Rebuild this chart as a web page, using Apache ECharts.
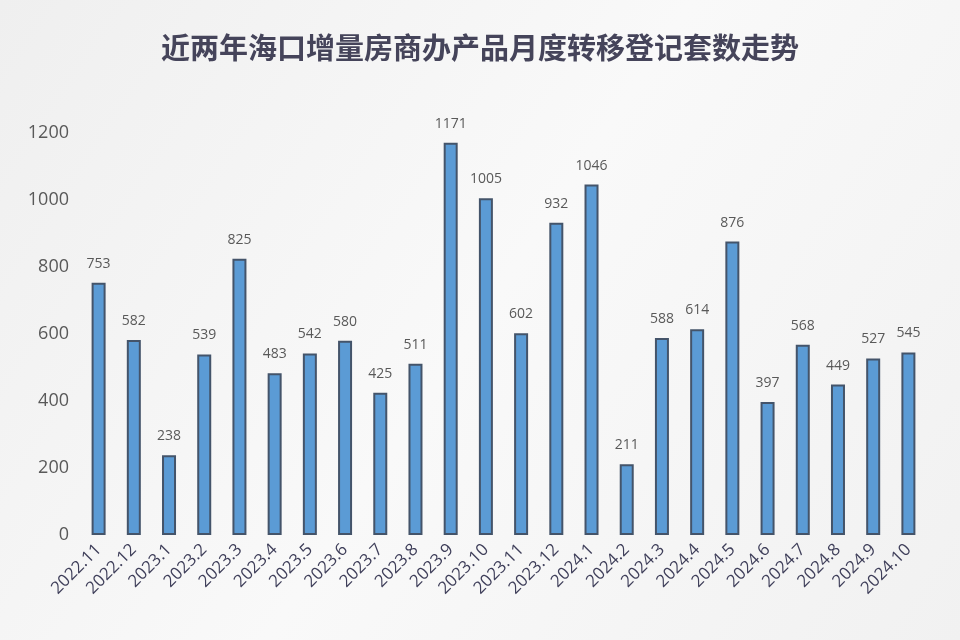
<!DOCTYPE html>
<html><head><meta charset="utf-8">
<script src="https://cdn.jsdelivr.net/npm/echarts@6/dist/echarts.min.js"></script>
<style>html,body{margin:0;padding:0;}#c{width:960px;height:640px;}</style>
</head><body><div id="c"></div>
<script>
const categories = ['2022.11','2022.12','2023.1','2023.2','2023.3','2023.4','2023.5','2023.6','2023.7','2023.8','2023.9','2023.10','2023.11','2023.12','2024.1','2024.2','2024.3','2024.4','2024.5','2024.6','2024.7','2024.8','2024.9','2024.10'];
const values = [753,582,238,539,825,483,542,580,425,511,1171,1005,602,932,1046,211,588,614,876,397,568,449,527,545];
const titleText = '近两年海口增量房商办产品月度转移登记套数走势';

const chart = echarts.init(document.getElementById('c'), null, {renderer:'canvas'});
chart.setOption({
  animation:false,
  backgroundColor:{type:'linear',x:0,y:0,x2:1,y2:1,colorStops:[{offset:0,color:'#efefef'},{offset:0.5,color:'#f9f9f9'},{offset:1,color:'#f1f1f1'}]},
  title:{text:titleText,left:'center',top:28,textStyle:{fontFamily:'Noto Sans CJK SC',fontWeight:'bold',fontSize:29,color:'#45445a'}},
  grid:{left:81,right:34,top:133,bottom:105,containLabel:false},
  xAxis:{type:'category',data:categories,
    axisLine:{show:false},axisTick:{show:false},
    axisLabel:{rotate:45,interval:0,fontFamily:'Open Sans',fontSize:17,color:'#3f3f5a',margin:12}},
  yAxis:{type:'value',min:0,max:1200,interval:200,
    splitLine:{show:false},axisLine:{show:false},axisTick:{show:false},
    axisLabel:{fontFamily:'Open Sans',fontSize:18,color:'#595959',margin:12,formatter:function(v){return String(v);}}},
  series:[{type:'bar',data:values,barWidth:14,
    itemStyle:{color:'#5b9bd5',borderColor:'#44546a',borderWidth:2},
    label:{show:true,position:'top',distance:12,fontFamily:'Open Sans',fontSize:14,color:'#595959'}}]
});
</script></body></html>
